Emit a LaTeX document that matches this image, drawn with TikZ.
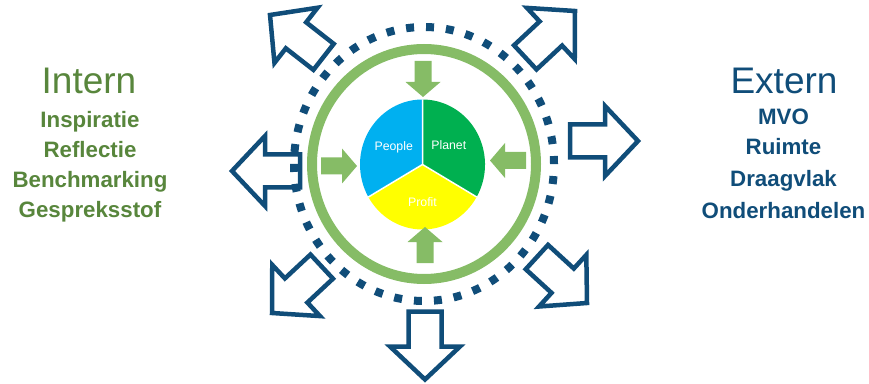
\documentclass[tikz,border=0pt]{standalone}
\usepackage{fontspec}
\setmainfont{Liberation Sans}
\definecolor{dblue}{RGB}{16,77,121}
\definecolor{lgreen}{RGB}{134,188,102}
\definecolor{tgreen}{RGB}{88,134,60}
\definecolor{pblue}{RGB}{0,176,240}
\definecolor{pgreen}{RGB}{0,176,80}
\definecolor{pyellow}{RGB}{255,255,0}
\tikzset{
  barrow/.pic={\draw[draw=dblue, line width=4.5pt, line join=miter]
     (0,0) -- (-33,35) -- (-33,16.5) -- (-68,16.5) -- (-68,-16.5) -- (-33,-16.5) -- (-33,-35) -- cycle;},
  garrow/.pic={\fill[lgreen]
     (0,0) -- (-15,17.5) -- (-15,8.5) -- (-36,8.5) -- (-36,-8.5) -- (-15,-8.5) -- (-15,-17.5) -- cycle;},
  title/.style={anchor=base, font=\fontsize{37}{40}\selectfont},
  item/.style={anchor=base, font=\bfseries\fontsize{22.3}{24}\selectfont},
  pielabel/.style={anchor=base, text=white, font=\fontsize{12.3}{14}\selectfont},
  dotring/.style={draw=dblue, line width=8pt, dash pattern=on 8pt off 11.975pt},
  greenring/.style={draw=lgreen, line width=10pt}
}
\begin{document}
\begin{tikzpicture}[x=1pt,y=1pt]
\useasboundingbox (0,0) rectangle (869,383);
% pie
\coordinate (pc) at (422.5,218.5);
\fill[pblue] (pc) -- ++(90:65) arc[start angle=90, end angle=210, x radius=62.5, y radius=65] -- cycle;
\fill[pgreen] (pc) -- ++(-30:62.5 and 65) arc[start angle=-30, end angle=90, x radius=62.5, y radius=65] -- cycle;
\fill[pyellow] (pc) -- ++(210:62.5 and 65) arc[start angle=210, end angle=330, x radius=62.5, y radius=65] -- cycle;
\draw[white, line width=1.5pt] (pc) -- ++(90:65) (pc) -- ++(210:62.5 and 65) (pc) -- ++(330:62.5 and 65);
\node[pielabel] (people) at (393.7,232.3) {People};
\node[pielabel] (planet) at (448.8,233.7) {Planet};
\node[pielabel] (profit) at (422.5,176.3) {Profit};
% rings
\coordinate (rc) at (424,219);
\draw[greenring] (rc) ellipse [x radius=112, y radius=115];
\draw[dotring] (rc) ellipse [x radius=130, y radius=137];
% green inward arrows
\pic[rotate=-90] at (423,286) {garrow};
\pic at (357,217) {garrow};
\pic[rotate=180] at (490,222.5) {garrow};
\pic[rotate=90] at (425,156) {garrow};
% blue outward arrows
\pic[rotate=142] at (270,368) {barrow};
\pic[rotate=43] at (575,372) {barrow};
\pic at (638,242) {barrow};
\pic[rotate=-42.5] at (587,80) {barrow};
\pic[rotate=-90] at (425,3.5) {barrow};
\pic[rotate=223] at (272,70) {barrow};
\pic[rotate=180] at (232,212) {barrow};
% texts
\node[title, text=tgreen] (intern) at (89,289.7) {Intern};
\node[item, text=tgreen] (i1) at (90,255.7) {Inspiratie};
\node[item, text=tgreen] (i2) at (90,225.7) {Reflectie};
\node[item, text=tgreen] (i3) at (90,195.7) {Benchmarking};
\node[item, text=tgreen] (i4) at (90,165) {Gespreksstof};
\node[title, text=dblue] (extern) at (784,289.7) {Extern};
\node[item, text=dblue] (e1) at (783.5,258) {MVO};
\node[item, text=dblue] (e2) at (783.5,228) {Ruimte};
\node[item, text=dblue] (e3) at (783.5,196.3) {Draagvlak};
\node[item, text=dblue] (e4) at (783.5,164.7) {Onderhandelen};
\end{tikzpicture}
\end{document}
